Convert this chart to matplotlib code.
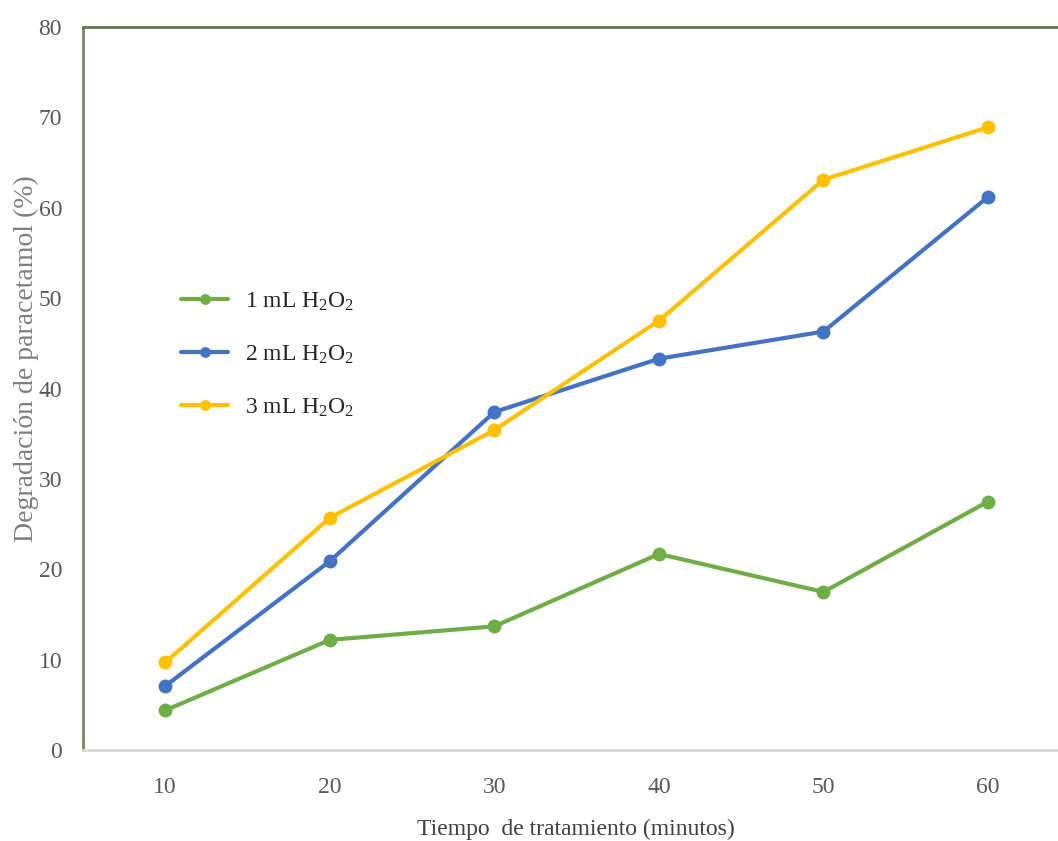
import matplotlib.pyplot as plt

tiempo = [10, 20, 30, 40, 50, 60]
h2o2_1ml = [4.4, 12.2, 13.7, 21.7, 17.5, 27.5]
h2o2_2ml = [7.1, 20.9, 37.4, 43.3, 46.3, 61.2]
h2o2_3ml = [9.7, 25.7, 35.4, 47.5, 63.1, 68.9]
series_labels = ['1 mL H$_2$O$_2$', '2 mL H$_2$O$_2$', '3 mL H$_2$O$_2$']
colors = ['#70AD47', '#4472C4', '#FFC000']

plt.rcParams['font.family'] = ['Liberation Serif', 'DejaVu Serif']
plt.rcParams['mathtext.fontset'] = 'custom'
plt.rcParams['mathtext.rm'] = 'Liberation Serif'
plt.rcParams['mathtext.it'] = 'Liberation Serif'

fig = plt.figure(figsize=(10.58, 8.41), dpi=100)
ax = fig.add_axes([0.0784, 0.108, 0.9216, 0.86])

for vals, lab, c in zip([h2o2_1ml, h2o2_2ml, h2o2_3ml], series_labels, colors):
    ax.plot(tiempo, vals, color=c, lw=3, marker='o', markersize=9, label=lab,
            solid_capstyle='round')

ax.set_xlim(5, 64.25)
ax.set_ylim(0, 80)
ax.set_xticks(tiempo)
ax.set_yticks(range(0, 81, 10))
ax.tick_params(length=0, labelsize=17, labelcolor='#595959')
ax.tick_params(axis='x', pad=19)
ax.tick_params(axis='y', pad=15)

ax.spines['right'].set_visible(False)
ax.spines['left'].set_color('#6F8A5E')
ax.spines['left'].set_linewidth(2)
ax.spines['top'].set_color('#5E7A4E')
ax.spines['top'].set_linewidth(2)
ax.spines['bottom'].set_color('#D9D9D9')
ax.spines['bottom'].set_linewidth(2)

ax.set_xlabel('Tiempo  de tratamiento (minutos)', fontsize=17, color='#404040')
ax.set_ylabel('Degradación de paracetamol (%)', fontsize=20, color='#7F7F7F')
ax.xaxis.set_label_coords(0.506, -0.095)
ax.yaxis.set_label_coords(-0.045, 0.542)

leg = ax.legend(loc='upper left', bbox_to_anchor=(0.079, 0.665), frameon=False,
                fontsize=17, labelspacing=1.3, handlelength=2.0, handletextpad=0.7,
                markerscale=0.75)
for t in leg.get_texts():
    t.set_color('#262626')

fig.savefig('out.png', dpi=100)
